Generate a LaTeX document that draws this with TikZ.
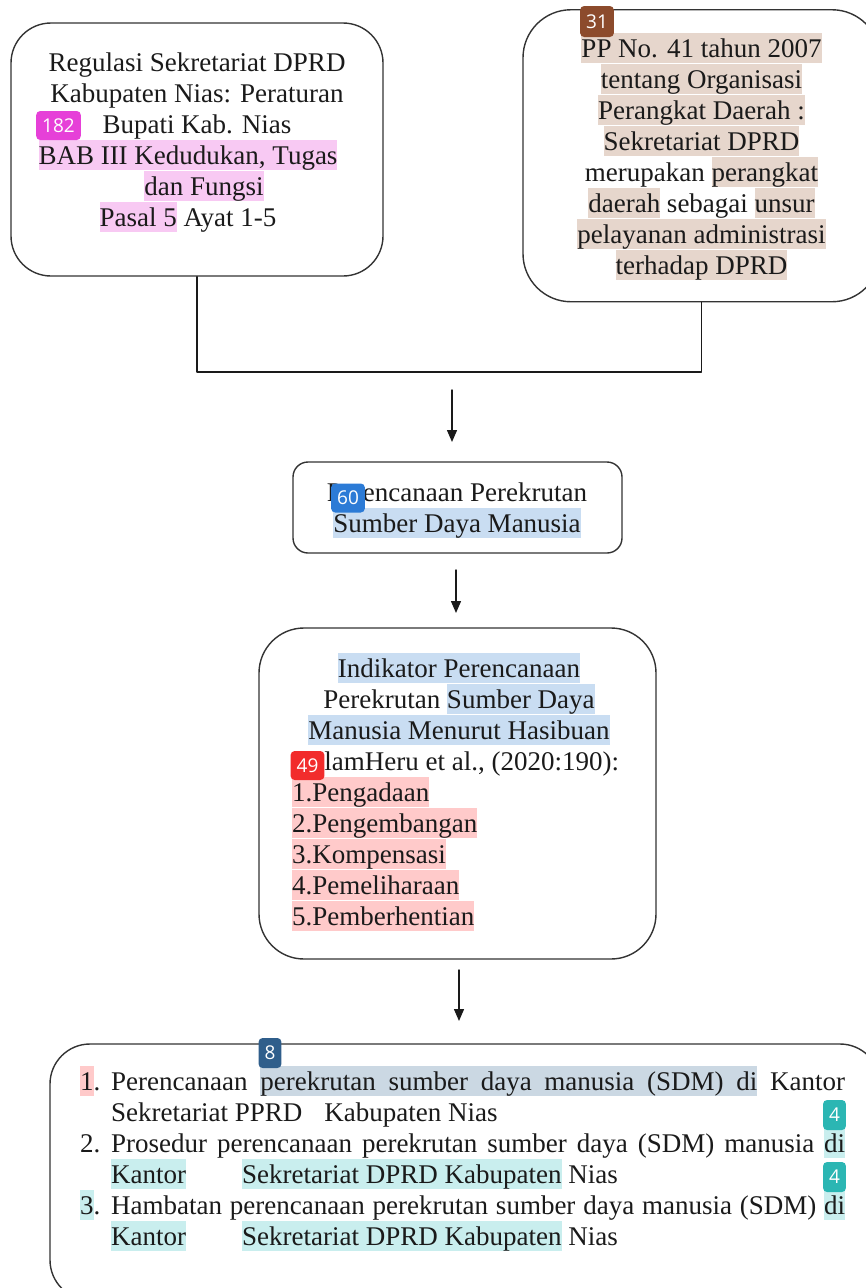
\documentclass[tikz,border=0pt]{standalone}
\usepackage{fontspec}
\setmainfont{Liberation Serif}
\newfontfamily\badgefont{Open Sans}
\usetikzlibrary{arrows.meta}
\definecolor{ink}{HTML}{1A1A1A}
\definecolor{frame}{HTML}{333333}
\definecolor{pinkhl}{HTML}{F8C9F3}
\definecolor{pinkbadge}{HTML}{E640D8}
\definecolor{beigehl}{HTML}{E6D6CC}
\definecolor{brownbadge}{HTML}{8C4B2C}
\definecolor{bluehl}{HTML}{C9DDF2}
\definecolor{bluebadge}{HTML}{2C7BD6}
\definecolor{redhl}{HTML}{FFCACA}
\definecolor{redbadge}{HTML}{F22C2C}
\definecolor{slatehl}{HTML}{CBD8E3}
\definecolor{navybadge}{HTML}{2F5E8B}
\definecolor{tealhl}{HTML}{C9EEEE}
\definecolor{tealbadge}{HTML}{2BB6B3}
\newcommand\lnstrut{\rule[-6pt]{0pt}{30pt}}
\newcommand\hlt[2]{{\setlength{\fboxsep}{0pt}\colorbox{#1}{\lnstrut#2}}}
\newcommand\hlgap[1]{{\color{#1}\leaders\vrule height 24pt depth 6pt\hfill}}

\begin{document}
\begin{tikzpicture}[
  x=1pt,y=-1pt,
  line cap=round,line join=round,
  panel/.style={draw=frame, line width=1.4pt, inner sep=0pt},
  body/.style={font=\fontsize{27}{31}\selectfont, text=ink, inner sep=0pt, anchor=north},
  badge/.style={font=\badgefont\fontsize{19}{19}\selectfont, text=white, rounded corners=4pt,
    inner xsep=6pt, inner ysep=0pt, minimum height=29pt},
  link/.style={draw=ink, line width=1.4pt},
  flow/.style={draw=ink, line width=1.4pt, -{Triangle[length=12pt,width=10pt]}}
]
\useasboundingbox (0,0) rectangle (865,1288);

% frames
\node[panel, minimum width=372pt, minimum height=253pt, rounded corners=40pt] (reg) at (197,149.5) {};
\node[panel, minimum width=357pt, minimum height=292pt, rounded corners=48pt] (pp) at (701.5,155.75) {};
\node[panel, minimum width=329pt, minimum height=91pt, rounded corners=15pt] (plan) at (457.5,507.5) {};
\node[panel, minimum width=397pt, minimum height=331pt, rounded corners=45pt] (ind) at (457.5,793.5) {};
\node[panel, minimum width=830pt, minimum height=256pt, rounded corners=40pt] (res) at (465,1172) {};

% regulation texts
\node[body, align=center] (regtxt) at (197,47) {\lnstrut Regulasi Sekretariat DPRD\\
  \lnstrut Kabupaten Nias: Peraturan\\
  \lnstrut Bupati Kab. Nias\\
  \hlt{pinkhl}{BAB III Kedudukan, Tugas}\hspace*{18pt}\mbox{}\\
  \hspace{14pt}\hlt{pinkhl}{dan Fungsi}\\
  \hlt{pinkhl}{Pasal 5} Ayat 1-5\hspace*{18pt}\mbox{}};
\node[body, align=center] (pptxt) at (701.5,33) {\hlt{beigehl}{PP No. 41 tahun 2007}\\
  \hlt{beigehl}{tentang Organisasi}\\
  \hlt{beigehl}{Perangkat Daerah :}\\
  \hlt{beigehl}{Sekretariat DPRD}\\
  \lnstrut merupakan \hlt{beigehl}{perangkat}\\
  \hlt{beigehl}{daerah} sebagai \hlt{beigehl}{unsur}\\
  \hlt{beigehl}{pelayanan administrasi}\\
  \hlt{beigehl}{terhadap DPRD}};

% merge into planning
\coordinate (join) at (452,372);
\draw[link] (reg.south) |- (join) -| (pp.south);
\coordinate (a1) at (452,390);
\coordinate (a1e) at (452,442);
\draw[flow] (a1) -- (a1e);

\node[body, align=center] (plantxt) at (457,477) {\lnstrut Perencanaan Perekrutan\\
  \hlt{bluehl}{Sumber Daya Manusia}};

\coordinate (a2) at (456,570);
\coordinate (a2e) at (456,613);
\draw[flow] (a2) -- (a2e);

% indicators
\node[body, align=center] (indhead) at (459,653) {\hlt{bluehl}{Indikator Perencanaan}\\
  \lnstrut Perekrutan \hlt{bluehl}{Sumber Daya}\\
  \hlt{bluehl}{Manusia Menurut Hasibuan}\\
  \lnstrut dalamHeru et al., (2020:190):};
\node[body, align=left, anchor=north west] (indlist) at (292,777) {\hlt{redhl}{1.Pengadaan}\\
  \hlt{redhl}{2.Pengembangan}\\
  \hlt{redhl}{3.Kompensasi}\\
  \hlt{redhl}{4.Pemeliharaan}\\
  \hlt{redhl}{5.Pemberhentian}};

\coordinate (a3) at (459,970);
\coordinate (a3e) at (459,1021);
\draw[flow] (a3) -- (a3e);

% research focus
\node[body, align=left, anchor=north west] (restxt) at (80,1066) {%
  \makebox[31pt][l]{\hlt{redhl}{1}.}\hbox to 734pt{Perencanaan\hfill\hlt{slatehl}{perekrutan}\hlgap{slatehl}\hlt{slatehl}{sumber}\hlgap{slatehl}\hlt{slatehl}{daya}\hlgap{slatehl}\hlt{slatehl}{manusia}\hlgap{slatehl}\hlt{slatehl}{(SDM)}\hlgap{slatehl}\hlt{slatehl}{di}\hfill Kantor}\\
  \hspace*{31pt}\lnstrut Sekretariat PPRD\hspace{22pt}Kabupaten Nias\\
  \makebox[31pt][l]{\lnstrut 2.}\hbox to 734pt{Prosedur\hfill perencanaan\hfill perekrutan\hfill sumber\hfill daya\hfill (SDM)\hfill manusia\hfill\hlt{tealhl}{di}}\\
  \hspace*{31pt}\hlt{tealhl}{Kantor}\hspace{56pt}\hlt{tealhl}{Sekretariat DPRD Kabupaten} Nias\\
  \makebox[31pt][l]{\hlt{tealhl}{3}.}\hbox to 734pt{Hambatan\hfill perencanaan\hfill perekrutan\hfill sumber\hfill daya\hfill manusia\hfill (SDM)\hfill\hlt{tealhl}{di}}\\
  \hspace*{31pt}\hlt{tealhl}{Kantor}\hspace{56pt}\hlt{tealhl}{Sekretariat DPRD Kabupaten} Nias};

% markers
\node[badge, fill=pinkbadge] (b182) at (58.5,125.5) {182};
\node[badge, fill=brownbadge, minimum height=31pt] (b31) at (597,21.5) {31};
\node[badge, fill=bluebadge] (b60) at (348,498) {60};
\node[badge, fill=redbadge] (b49) at (307.5,765.5) {49};
\node[badge, fill=navybadge, minimum height=30pt] (b8) at (270,1053) {8};
\node[badge, fill=tealbadge, minimum height=30pt] (b4a) at (834.5,1115) {4};
\node[badge, fill=tealbadge, minimum height=30pt] (b4b) at (834.5,1177) {4};

\end{tikzpicture}
\end{document}
